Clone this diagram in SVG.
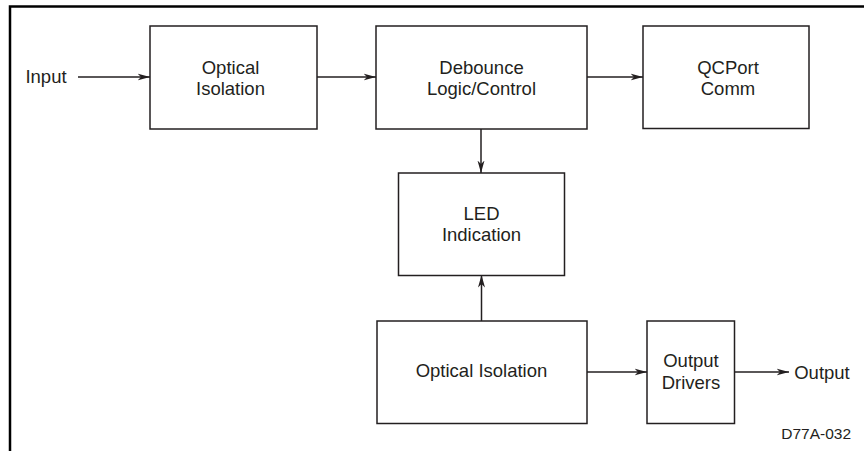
<svg xmlns="http://www.w3.org/2000/svg" width="864" height="451" viewBox="0 0 864 451">
<style>
.box{fill:#fff;stroke:#231f20;stroke-width:1.5}
.lbl{font-family:"Liberation Sans",Arial,sans-serif;font-size:18.5px;fill:#231f20;text-anchor:middle}
.con{stroke:#231f20;stroke-width:1.5;fill:none;marker-end:url(#ah)}
.frame{stroke:#000;stroke-width:2.5;fill:none}
</style>
<defs>
<marker id="ah" markerUnits="userSpaceOnUse" markerWidth="14" markerHeight="8" refX="12.5" refY="4" orient="auto">
<path d="M0,0.5 L12.5,4 L0,7.5 L3.5,4 Z" fill="#231f20"/>
</marker>
</defs>
<rect width="864" height="451" fill="#fff"/>
<path class="frame" d="M10,451 L10,6.5 L864,6.5"/>
<g id="connectors">
<line class="con" x1="78" y1="77" x2="150" y2="77"/>
<line class="con" x1="317" y1="77" x2="376" y2="77"/>
<line class="con" x1="587" y1="77" x2="643" y2="77"/>
<line class="con" x1="481" y1="129" x2="481" y2="173"/>
<line class="con" x1="481.5" y1="321" x2="481.5" y2="275"/>
<line class="con" x1="587" y1="372" x2="647" y2="372"/>
<line class="con" x1="734" y1="372" x2="789" y2="372"/>
</g>
<g id="input"><text class="lbl" x="46" y="83">Input</text></g>
<g id="optical-top">
<rect class="box" x="150" y="26" width="167" height="103"/>
<text class="lbl" x="230.5" y="73.5">Optical</text>
<text class="lbl" x="230.5" y="94.5">Isolation</text>
</g>
<g id="debounce">
<rect class="box" x="376" y="26" width="211" height="103"/>
<text class="lbl" x="481.5" y="73.5">Debounce</text>
<text class="lbl" x="481.5" y="95">Logic/Control</text>
</g>
<g id="qcport">
<rect class="box" x="643" y="26" width="166" height="102.5"/>
<text class="lbl" x="728" y="73.5">QCPort</text>
<text class="lbl" x="728" y="95">Comm</text>
</g>
<g id="led">
<rect class="box" x="398.5" y="173" width="166" height="102.5"/>
<text class="lbl" x="481.5" y="220">LED</text>
<text class="lbl" x="481.5" y="241">Indication</text>
</g>
<g id="optical-bottom">
<rect class="box" x="377" y="321" width="210" height="102.5"/>
<text class="lbl" x="481.5" y="377">Optical Isolation</text>
</g>
<g id="drivers">
<rect class="box" x="647" y="321" width="87.5" height="102.5"/>
<text class="lbl" x="691" y="367">Output</text>
<text class="lbl" x="691" y="388.5">Drivers</text>
</g>
<g id="output"><text class="lbl" x="822" y="379">Output</text></g>
<text x="851" y="439" font-family="'Liberation Sans',Arial,sans-serif" font-size="15.5" fill="#231f20" text-anchor="end">D77A-032</text>
</svg>
